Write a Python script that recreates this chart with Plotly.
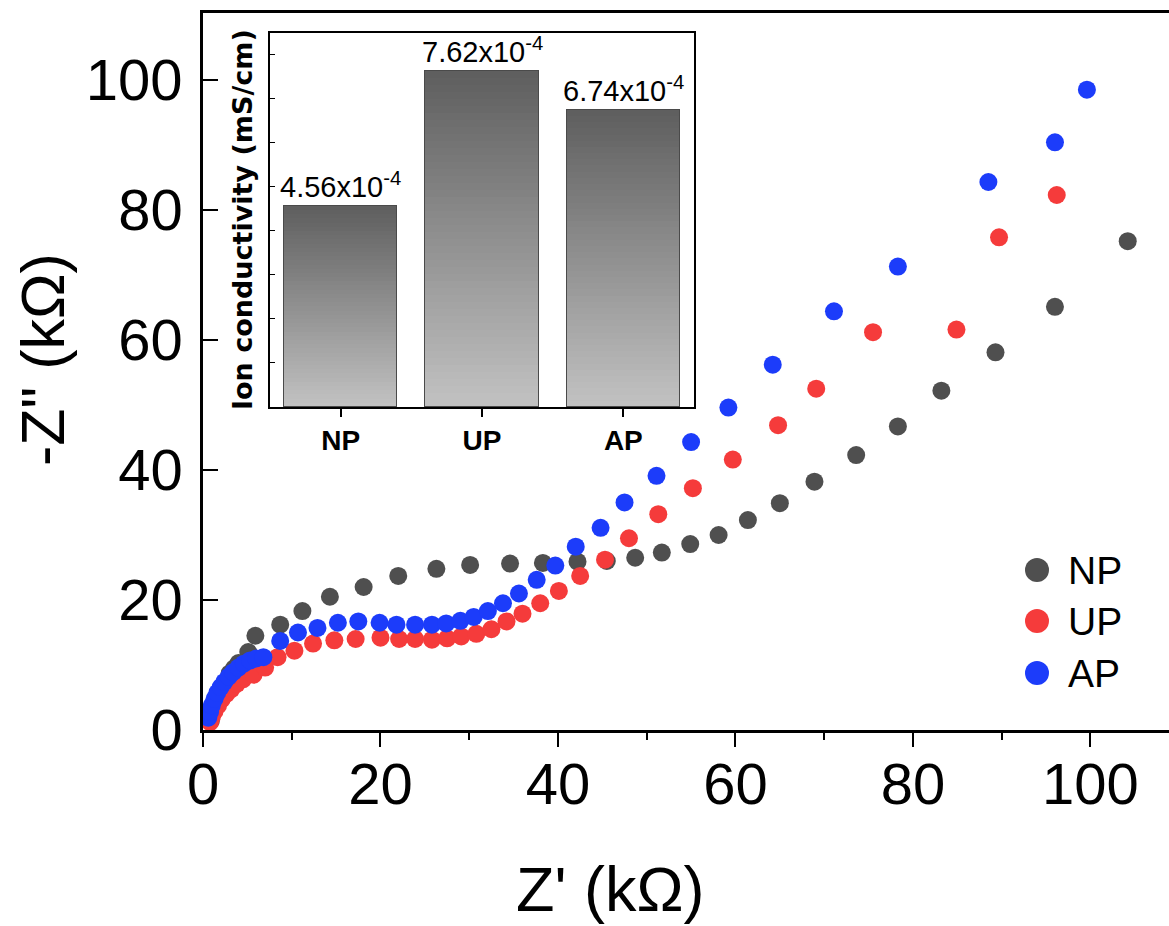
import plotly.graph_objects as go

# ---------------- data ----------------
np_x = [0.9, 1.1, 1.4, 1.8, 2.3, 3.0, 3.5, 4.0, 5.1, 5.9, 8.7, 11.2, 14.3, 18.1, 22.0, 26.3, 30.1,
        34.6, 38.3, 42.2, 45.5, 48.7, 51.7, 54.9, 58.1, 61.4, 65.0, 68.9, 73.6, 78.3, 83.2, 89.3, 96.0, 104.2]
np_y = [1.5, 2.6, 3.8, 5.0, 6.4, 8.7, 9.5, 10.3, 12.0, 14.5, 16.2, 18.3, 20.5, 22.0, 23.7, 24.8, 25.4,
        25.6, 25.7, 25.9, 26.0, 26.5, 27.3, 28.6, 30.0, 32.3, 34.9, 38.2, 42.3, 46.7, 52.2, 58.1, 65.1, 75.2]

up_x = [0.8, 1.0, 1.3, 1.7, 2.1, 2.6, 3.2, 3.8, 4.5, 5.7, 7.0, 8.4, 10.3, 12.4, 14.8, 17.2, 20.0, 22.1,
        23.9, 25.8, 27.5, 29.1, 30.8, 32.5, 34.2, 36.0, 38.0, 40.1, 42.5, 45.3, 48.0, 51.3, 55.2, 59.7,
        64.8, 69.1, 75.5, 84.9, 89.7, 96.2]
up_y = [1.2, 2.0, 2.9, 3.8, 4.7, 5.5, 6.3, 7.1, 7.8, 8.5, 9.6, 11.2, 12.2, 13.3, 13.8, 14.0, 14.2, 14.0,
        14.0, 13.9, 14.1, 14.4, 14.8, 15.5, 16.7, 17.9, 19.5, 21.4, 23.7, 26.2, 29.5, 33.2, 37.2, 41.6,
        46.9, 52.5, 61.2, 61.6, 75.8, 82.3]

ap_x = [0.6, 0.8, 1.0, 1.3, 1.6, 2.0, 2.4, 2.9, 3.4, 4.0, 4.6, 5.3, 6.0, 6.8, 8.7, 10.7, 12.9, 15.2,
        17.5, 19.9, 21.8, 23.9, 25.8, 27.4, 29.0, 30.5, 32.1, 33.8, 35.6, 37.6, 39.7, 42.0, 44.8, 47.5,
        51.1, 55.0, 59.2, 64.2, 71.1, 78.3, 88.5, 96.0, 99.6]
ap_y = [1.9, 2.8, 3.8, 4.8, 5.7, 6.6, 7.4, 8.2, 8.9, 9.6, 10.2, 10.7, 11.0, 11.2, 13.7, 15.0, 15.7, 16.5,
        16.7, 16.5, 16.2, 16.2, 16.2, 16.4, 16.8, 17.4, 18.3, 19.5, 21.0, 23.1, 25.3, 28.2, 31.1, 35.0,
        39.1, 44.3, 49.6, 56.2, 64.4, 71.3, 84.3, 90.4, 98.5]

series_names = ["NP", "UP", "AP"]
series_colors = ["#4f4f4f", "#f53b3b", "#1c3cfa"]

inset_cats = ["NP", "UP", "AP"]
conductivity = [4.56e-4, 7.62e-4, 6.74e-4]  # mS/cm

x_ticks = [0, 20, 40, 60, 80, 100]
y_ticks = [0, 20, 40, 60, 80, 100]

# ---------------- figure ----------------
W, H = 1169, 926
ML, MR, MT, MB = 203, 0, 13, 196
PW, PH = W - ML - MR, H - MT - MB


def px_x(p):
    return (p - ML) / PW


def px_y(p):
    return (H - MB - p) / PH


FONT = "Liberation Sans, Arial, sans-serif"
fig = go.Figure()

for xs, ys, name, col in zip([np_x, up_x, ap_x], [np_y, up_y, ap_y], series_names, series_colors):
    fig.add_trace(go.Scatter(x=xs, y=ys, mode="markers", name=name,
                             marker=dict(size=18, color=col, line=dict(width=0)),
                             showlegend=False, xaxis="x", yaxis="y"))

# inset gradient bars (stacked thin slices of each bar)
N = 48
dark = (94, 94, 94)
light = (194, 194, 194)
for k in range(N):
    t = (k + 0.5) / N
    c = tuple(int(round(light[i] + (dark[i] - light[i]) * t)) for i in range(3))
    fig.add_trace(go.Bar(x=list(range(len(inset_cats))), y=[v / N for v in conductivity],
                         width=0.8, marker=dict(color="rgb(%d,%d,%d)" % c, line=dict(width=0)),
                         showlegend=False, xaxis="x2", yaxis="y2", hoverinfo="skip"))

# outline of bars
fig.add_trace(go.Bar(x=list(range(len(inset_cats))), y=conductivity, width=0.8,
                     marker=dict(color="rgba(0,0,0,0)", line=dict(width=1, color="#4a4a4a")),
                     showlegend=False, xaxis="x3", yaxis="y3", hoverinfo="skip"))

annotations = []
for i, v in enumerate(conductivity):
    annotations.append(dict(x=i, y=v, xref="x2", yref="y2", yanchor="bottom", xanchor="center",
                            yshift=1, showarrow=False,
                            text="%.2fx10<sup>-4</sup>" % (v * 1e4),
                            font=dict(family=FONT, size=29, color="black")))

# inset y title
annotations.append(dict(x=px_x(242), y=px_y(220), xref="paper", yref="paper", showarrow=False,
                        text="Ion conductivity (mS/cm)", textangle=-90,
                        font=dict(family="DejaVu Sans", size=27, color="black", weight="bold"),
                        xanchor="center", yanchor="middle"))

# main axis titles
annotations.append(dict(x=px_x(610), y=px_y(889), xref="paper", yref="paper", showarrow=False,
                        text="Z' (kΩ)", font=dict(family=FONT, size=63, color="black"),
                        xanchor="center", yanchor="middle"))
annotations.append(dict(x=px_x(43), y=px_y(360), xref="paper", yref="paper", showarrow=False,
                        text='-Z" (kΩ)', textangle=-90,
                        font=dict(family=FONT, size=61, color="black"),
                        xanchor="center", yanchor="middle"))

# legend (custom)
shapes = []
leg_y = [570, 621, 673]
for name, col, yy in zip(series_names, series_colors, leg_y):
    shapes.append(dict(type="circle", xref="paper", yref="paper", xsizemode="pixel",
                       ysizemode="pixel", xanchor=px_x(1037), yanchor=px_y(yy),
                       x0=-12, x1=12, y0=-12, y1=12, fillcolor=col, line=dict(width=0)))
    annotations.append(dict(x=px_x(1066), y=px_y(yy), xref="paper", yref="paper", showarrow=False,
                            text=name, xanchor="left", yanchor="middle",
                            font=dict(family=FONT, size=39, color="black")))

fig.update_layout(
    width=W, height=H, autosize=False,
    margin=dict(l=ML, r=MR, t=MT, b=MB, pad=0),
    paper_bgcolor="white", plot_bgcolor="rgba(0,0,0,0)",
    barmode="stack", bargap=0,
    showlegend=False,
    font=dict(family=FONT, color="black"),
    xaxis=dict(range=[0, 108.85], tickvals=x_ticks, ticks="outside", ticklen=14, tickwidth=2,
               tickcolor="black", showline=True, linewidth=2.5, linecolor="black", mirror=True,
               showgrid=False, zeroline=False, tickfont=dict(size=58, family=FONT),
               minor=dict(dtick=10, tick0=0, ticks="outside", ticklen=7, tickwidth=2, tickcolor="black"),
               ticklabelstandoff=-12),
    yaxis=dict(range=[0, 110.3], tickvals=y_ticks, ticks="inside", ticklen=15, tickwidth=2,
               tickcolor="black", showline=True, linewidth=2.5, linecolor="black", mirror=False,
               showgrid=False, zeroline=False, tickfont=dict(size=58, family=FONT),
               ticklabelstandoff=6),
    xaxis2=dict(domain=[px_x(270), px_x(694)], anchor="y2", range=[-0.5, 2.5],
                tickvals=list(range(len(inset_cats))), ticktext=inset_cats,
                ticks="outside", ticklen=8, tickwidth=1.5, tickcolor="black",
                showline=True, linewidth=1.5, linecolor="black", mirror=True,
                showgrid=False, zeroline=False,
                tickfont=dict(size=28, family=FONT, weight="bold")),
    yaxis2=dict(domain=[px_y(407), px_y(33)], anchor="x2", range=[0, 8.48e-4],
                dtick=1e-4, tick0=0, ticks="inside", ticklen=5, tickwidth=1, tickcolor="black",
                showticklabels=False, showline=True, linewidth=1.5, linecolor="black", mirror=True,
                showgrid=False, zeroline=False),
    xaxis3=dict(overlaying="x2", anchor="y3", range=[-0.5, 2.5], visible=False),
    yaxis3=dict(overlaying="y2", anchor="x3", range=[0, 8.48e-4], visible=False),
    annotations=annotations,
    shapes=shapes,
)

fig.write_html("out.html")
